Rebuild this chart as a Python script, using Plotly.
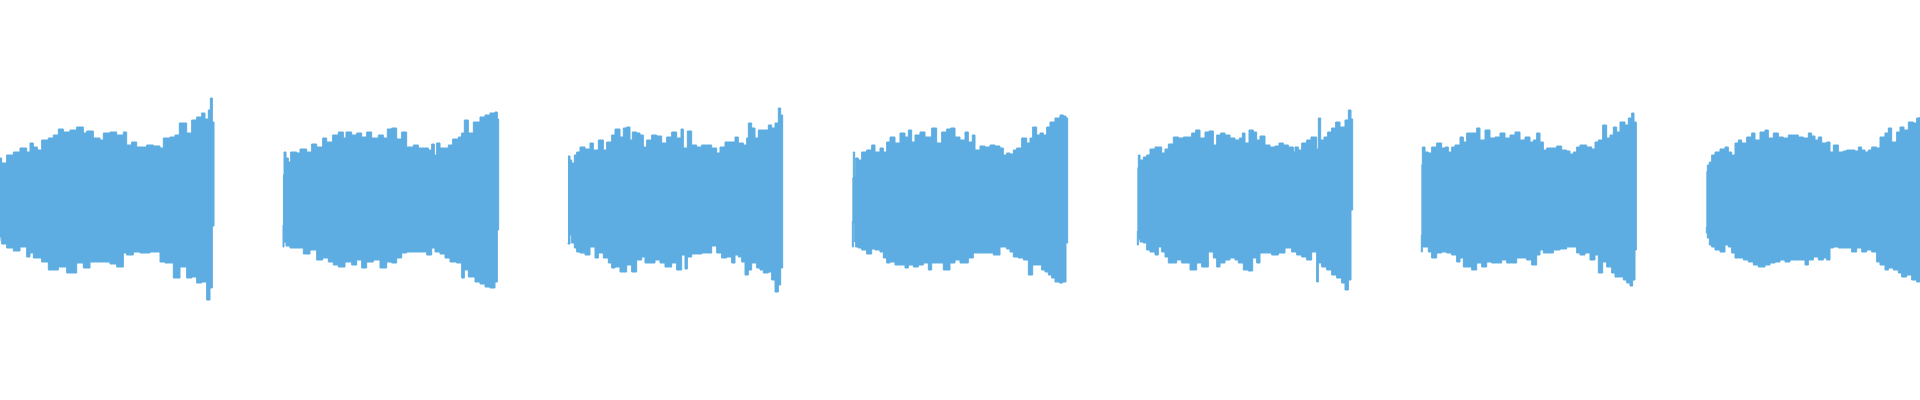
import plotly.graph_objects as go

# Onset time (ms) of each repeated burst
onsets = [0, 848, 1703, 2556, 3411, 4263, 5118]

# Envelope readings per burst: times relative to onset (ms), upper / lower peak amplitude
seg1_top_t = [0, 5, 15, 20, 40, 60, 80, 90, 100, 112, 125, 145, 160, 175, 190, 210, 230, 250, 260, 280, 300, 310, 330, 350, 370, 380, 395, 410, 430, 440, 460, 480, 490, 510, 525, 538, 560, 575, 590, 605, 615, 625, 631, 637, 642]
seg1_top = [41, 36, 36, 44, 47, 51, 47, 56, 52, 49, 59, 61, 64, 70, 67, 69, 72, 66, 68, 61, 59, 66, 67, 64, 67, 54, 57, 52, 52, 54, 53, 51, 61, 62, 64, 76, 66, 79, 82, 86, 80, 89, 101, 77, 26]
seg1_bot_t = [0, 5, 20, 40, 60, 80, 90, 100, 125, 145, 175, 200, 230, 250, 270, 300, 330, 350, 370, 380, 400, 420, 450, 480, 495, 520, 540, 560, 575, 590, 605, 620, 630, 637, 642]
seg1_bot = [42, 38, 45, 49, 52, 48, 58, 54, 59, 63, 71, 68, 74, 64, 69, 63, 63, 65, 68, 54, 56, 53, 54, 53, 63, 64, 79, 68, 79, 78, 84, 83, 101, 89, 27]

seg2_top_t = [1, 4, 10, 17, 24, 42, 52, 72, 87, 102, 120, 132, 150, 167, 182, 190, 207, 222, 237, 252, 267, 287, 302, 314, 327, 342, 357, 372, 392, 407, 427, 437, 447, 455, 462, 472, 487, 497, 510, 527, 537, 545, 557, 572, 592, 607, 622, 637, 644, 648]
seg2_top = [24, 47, 41, 37, 47, 46, 50, 47, 55, 52, 61, 57, 64, 67, 61, 67, 64, 66, 62, 67, 61, 64, 61, 70, 71, 60, 67, 52, 54, 51, 51, 49, 55, 44, 56, 51, 51, 54, 60, 62, 66, 79, 66, 77, 82, 84, 86, 87, 80, 30]
seg2_bot_t = [1, 4, 10, 22, 42, 62, 82, 102, 120, 137, 152, 167, 187, 207, 222, 237, 252, 272, 292, 312, 327, 342, 357, 372, 392, 412, 432, 447, 457, 472, 487, 502, 522, 537, 545, 557, 577, 592, 607, 622, 637, 644, 648]
seg2_bot = [26, 48, 43, 47, 49, 49, 55, 51, 61, 59, 63, 66, 68, 63, 66, 61, 69, 63, 61, 69, 63, 64, 59, 54, 53, 53, 53, 56, 49, 53, 55, 59, 63, 64, 79, 71, 78, 83, 85, 88, 89, 83, 31]

seg3_top_t = [1, 7, 12, 20, 27, 37, 52, 67, 77, 92, 107, 117, 132, 142, 157, 167, 177, 187, 194, 207, 217, 227, 237, 252, 267, 282, 297, 312, 327, 340, 347, 359, 372, 387, 402, 417, 432, 447, 457, 472, 487, 502, 512, 527, 537, 542, 552, 562, 572, 587, 602, 612, 622, 632, 639, 645]
seg3_top = [43, 39, 36, 44, 47, 52, 50, 56, 49, 59, 49, 57, 64, 70, 62, 71, 72, 59, 67, 66, 64, 52, 59, 64, 63, 56, 62, 67, 61, 70, 51, 68, 54, 52, 54, 54, 51, 46, 52, 57, 57, 62, 56, 54, 61, 76, 71, 61, 69, 69, 74, 71, 76, 91, 84, 69]
seg3_bot_t = [1, 7, 12, 20, 27, 37, 52, 67, 82, 92, 107, 122, 132, 142, 157, 167, 177, 192, 207, 222, 232, 247, 262, 277, 292, 312, 327, 342, 352, 359, 372, 387, 402, 417, 432, 447, 462, 477, 492, 502, 512, 522, 532, 542, 552, 567, 577, 587, 602, 612, 622, 632, 639, 645]
seg3_bot = [44, 45, 36, 44, 49, 53, 54, 56, 48, 59, 54, 59, 64, 69, 68, 73, 73, 66, 73, 61, 58, 64, 64, 61, 64, 68, 64, 71, 56, 70, 58, 55, 55, 54, 54, 47, 54, 59, 58, 64, 56, 58, 63, 76, 71, 64, 69, 71, 74, 73, 81, 93, 86, 69]

seg4_top_t = [1, 4, 8, 11, 19, 29, 44, 59, 69, 84, 94, 104, 114, 129, 144, 159, 169, 179, 189, 204, 219, 239, 254, 269, 284, 296, 309, 324, 339, 349, 361, 369, 384, 399, 414, 429, 444, 454, 464, 474, 484, 494, 509, 524, 534, 542, 554, 564, 574, 584, 594, 609, 624, 634, 642, 647]
seg4_top = [21, 47, 23, 41, 39, 47, 49, 54, 47, 51, 47, 57, 62, 56, 66, 62, 69, 57, 64, 67, 62, 71, 56, 67, 70, 71, 62, 59, 67, 57, 64, 49, 53, 52, 54, 53, 51, 44, 46, 45, 49, 51, 61, 56, 61, 72, 64, 66, 64, 72, 77, 81, 84, 83, 81, 43]
seg4_bot_t = [1, 4, 8, 11, 19, 29, 44, 59, 69, 84, 94, 104, 114, 129, 144, 159, 169, 184, 199, 214, 229, 239, 254, 274, 294, 309, 324, 339, 349, 364, 384, 404, 424, 444, 464, 474, 484, 499, 514, 529, 542, 554, 569, 579, 589, 599, 609, 622, 632, 642, 647]
seg4_bot = [22, 48, 24, 43, 48, 49, 51, 55, 50, 51, 53, 59, 64, 63, 66, 66, 69, 66, 68, 66, 64, 71, 64, 64, 71, 64, 61, 64, 64, 59, 54, 54, 54, 56, 48, 50, 53, 58, 59, 61, 76, 66, 66, 71, 73, 76, 79, 83, 84, 83, 44]

seg5_top_t = [1, 4, 9, 19, 29, 39, 54, 64, 74, 84, 94, 109, 124, 139, 154, 164, 176, 189, 204, 216, 229, 239, 251, 264, 279, 294, 307, 316, 324, 336, 349, 359, 369, 384, 399, 414, 426, 439, 454, 469, 474, 484, 494, 509, 522, 534, 539, 544, 551, 561, 572, 584, 596, 609, 624, 634, 642, 647]
seg5_top = [31, 44, 39, 42, 44, 50, 52, 52, 46, 50, 55, 62, 61, 62, 62, 66, 69, 61, 67, 68, 54, 64, 66, 64, 61, 59, 61, 66, 56, 69, 67, 59, 63, 54, 52, 53, 56, 54, 52, 47, 52, 49, 56, 59, 62, 62, 50, 81, 59, 62, 67, 71, 77, 72, 79, 89, 80, 9]
seg5_bot_t = [1, 4, 9, 19, 29, 39, 54, 64, 74, 84, 94, 109, 119, 134, 144, 159, 179, 194, 214, 229, 239, 249, 264, 279, 294, 304, 319, 334, 347, 359, 369, 384, 404, 424, 444, 464, 479, 494, 509, 524, 539, 544, 554, 569, 584, 599, 614, 624, 634, 642, 647]
seg5_bot = [32, 46, 40, 43, 44, 51, 53, 56, 48, 53, 58, 64, 64, 61, 64, 64, 71, 64, 68, 53, 59, 68, 64, 61, 59, 61, 64, 71, 72, 59, 64, 54, 54, 56, 54, 49, 53, 56, 58, 61, 53, 83, 64, 68, 71, 76, 79, 84, 91, 81, 11]

seg6_top_t = [1, 4, 12, 22, 32, 47, 62, 72, 82, 92, 102, 117, 127, 137, 152, 167, 177, 192, 207, 222, 237, 252, 267, 282, 297, 312, 327, 337, 347, 357, 367, 377, 392, 407, 422, 437, 447, 457, 467, 477, 487, 497, 512, 522, 532, 545, 557, 567, 577, 587, 597, 612, 622, 632, 639, 646]
seg6_top = [34, 52, 47, 46, 52, 56, 51, 52, 47, 52, 54, 62, 57, 66, 66, 71, 59, 69, 61, 62, 66, 61, 64, 67, 59, 62, 57, 59, 66, 57, 49, 51, 51, 53, 49, 48, 45, 47, 52, 54, 54, 52, 50, 57, 59, 74, 61, 64, 72, 67, 77, 74, 81, 86, 77, 50]
seg6_bot_t = [1, 4, 12, 22, 32, 47, 62, 77, 92, 107, 117, 127, 137, 152, 167, 182, 197, 212, 227, 242, 257, 272, 287, 302, 317, 332, 347, 357, 367, 382, 397, 417, 437, 452, 467, 477, 492, 507, 522, 532, 545, 557, 572, 582, 592, 607, 617, 627, 635, 642, 646]
seg6_bot = [36, 53, 48, 48, 53, 59, 54, 53, 54, 56, 63, 59, 68, 68, 71, 64, 68, 63, 64, 64, 61, 64, 64, 59, 59, 61, 66, 56, 51, 54, 54, 51, 50, 48, 48, 54, 56, 54, 61, 56, 74, 63, 68, 74, 78, 78, 81, 84, 87, 81, 51]

seg7_top_t = [1, 4, 10, 17, 27, 42, 57, 67, 77, 87, 97, 107, 122, 137, 147, 162, 177, 187, 202, 217, 232, 247, 262, 277, 292, 307, 317, 327, 337, 347, 362, 372, 382, 397, 412, 422, 432, 447, 457, 467, 477, 487, 497, 512, 522, 537, 547, 557, 572, 582, 594, 607, 622, 632, 642]
seg7_top = [27, 34, 37, 44, 47, 50, 52, 47, 44, 56, 59, 56, 62, 66, 59, 67, 69, 61, 66, 62, 61, 64, 64, 62, 61, 66, 63, 59, 62, 56, 57, 47, 54, 47, 48, 49, 49, 48, 52, 49, 47, 49, 52, 51, 62, 66, 71, 57, 67, 72, 69, 77, 76, 81, 82]
seg7_bot_t = [1, 4, 10, 17, 27, 42, 57, 67, 77, 87, 97, 112, 127, 142, 157, 177, 192, 207, 222, 237, 252, 267, 282, 297, 307, 322, 337, 352, 362, 372, 382, 397, 412, 422, 437, 452, 467, 482, 497, 512, 522, 537, 547, 562, 577, 587, 602, 617, 632, 642]
seg7_bot = [28, 34, 39, 46, 48, 51, 53, 46, 48, 54, 59, 59, 61, 63, 66, 68, 66, 64, 63, 61, 63, 61, 61, 61, 66, 61, 58, 61, 59, 61, 49, 48, 49, 49, 49, 53, 49, 53, 51, 53, 63, 66, 71, 69, 71, 74, 78, 76, 81, 83]

segments = [
    (seg1_top_t, seg1_top, seg1_bot_t, seg1_bot),
    (seg2_top_t, seg2_top, seg2_bot_t, seg2_bot),
    (seg3_top_t, seg3_top, seg3_bot_t, seg3_bot),
    (seg4_top_t, seg4_top, seg4_bot_t, seg4_bot),
    (seg5_top_t, seg5_top, seg5_bot_t, seg5_bot),
    (seg6_top_t, seg6_top, seg6_bot_t, seg6_bot),
    (seg7_top_t, seg7_top, seg7_bot_t, seg7_bot),
]

COLOR = "#5DADE2"

fig = go.Figure()
for onset, (tt, tv, bt, bv) in zip(onsets, segments):
    xs = [onset + t for t in tt] + [onset + t for t in reversed(bt)]
    ys = list(tv) + [-v for v in reversed(bv)]
    fig.add_trace(go.Scatter(
        x=xs, y=ys, mode="lines", fill="toself", line_shape="hv",
        fillcolor=COLOR, line=dict(color=COLOR, width=1),
        hoverinfo="skip", showlegend=False,
    ))

fig.update_layout(
    width=1920, height=400,
    margin=dict(l=0, r=0, t=0, b=0),
    paper_bgcolor="white", plot_bgcolor="white",
    showlegend=False,
    xaxis=dict(range=[0, 5760], visible=False, fixedrange=True),
    yaxis=dict(range=[-201, 199], visible=False, fixedrange=True),
)

fig.write_html(
    "out.html",
    config={"displayModeBar": False},
    post_script="document.body.style.margin='0';document.body.style.overflow='hidden';",
)
